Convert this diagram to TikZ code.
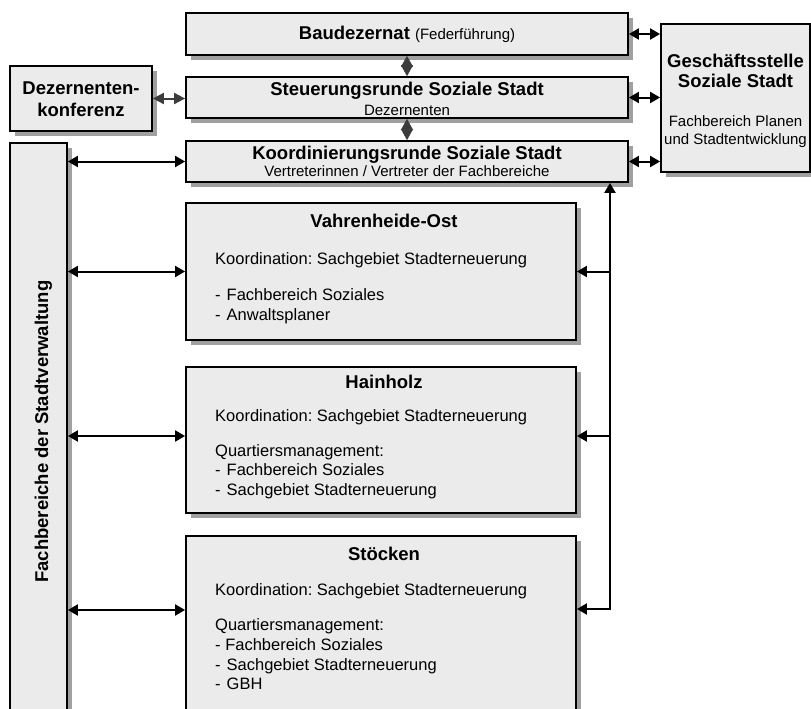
\documentclass[tikz,border=0pt]{standalone}
\usepackage{fontspec}
\setmainfont{Liberation Sans}
\usetikzlibrary{arrows.meta,shadows}
\definecolor{boxfill}{RGB}{235,235,235}
\definecolor{shadowgray}{RGB}{160,160,160}
\definecolor{darkarrow}{RGB}{60,60,60}
\newcommand\TitleFont{\fontsize{18.5}{22}\selectfont\bfseries}
\newcommand\BodyFont{\fontsize{16.5}{20}\selectfont}
\newcommand\SmallFont{\fontsize{15}{18}\selectfont}
\frenchspacing
\begin{document}
\begin{tikzpicture}[x=1pt,y=-1pt,
  box/.style={draw=black, line width=1.8pt, fill=boxfill, inner sep=0pt,
    drop shadow={shadow xshift=5pt, shadow yshift=-5pt, fill=shadowgray, opacity=1}},
  ctxt/.style={inner sep=0pt, anchor=base},
  ltxt/.style={inner sep=0pt, anchor=base west},
  arr/.style={line width=2pt, arrows={Triangle[length=10pt,width=11pt]-Triangle[length=10pt,width=11pt]}},
  sarr/.style={line width=2pt, arrows={-Triangle[length=10pt,width=11pt]}},
  garr/.style={line width=2pt, draw=darkarrow, arrows={Triangle[length=11pt,width=11pt]-Triangle[length=11pt,width=11pt]}},
  dia/.style={line width=0.4pt, draw=darkarrow, fill=darkarrow, arrows={Triangle[length=11pt,width=12pt]-Triangle[length=11pt,width=12pt]}}
]
\path[use as bounding box, clip] (0,0) rectangle (811,709);

% boxes
\node[box, minimum width=442pt, minimum height=42pt] (bau) at (407,34) {};
\node[box, minimum width=442pt, minimum height=41pt] (steu) at (407,97.5) {};
\node[box, minimum width=442pt, minimum height=41pt] (koord) at (407,161.5) {};
\node[box, minimum width=142pt, minimum height=65pt] (dez) at (81,98.5) {};
\node[box, minimum width=149pt, minimum height=148pt] (gs) at (735.5,98) {};
\node[box, minimum width=57pt, minimum height=587pt] (fb) at (38.5,436.5) {};
\node[box, minimum width=390pt, minimum height=137pt] (vo) at (381,271.5) {};
\node[box, minimum width=390pt, minimum height=146pt] (hh) at (381,440) {};
\node[box, minimum width=390pt, minimum height=204pt] (st) at (381,638) {};

% texts top
\node[ctxt] (baut) at (407,40) {\TitleFont Baudezernat \SmallFont\mdseries(Federführung)};
\node[ctxt] (steut) at (407,95.7) {\TitleFont Steuerungsrunde Soziale Stadt};
\node[ctxt] (steus) at (407,115) {\SmallFont Dezernenten};
\node[ctxt] (koordt) at (407,159) {\TitleFont Koordinierungsrunde Soziale Stadt};
\node[ctxt] (koords) at (407,176.7) {\SmallFont Vertreterinnen / Vertreter der Fachbereiche};
\node[ctxt] (dezt1) at (81,94) {\TitleFont Dezernenten-};
\node[ctxt] (dezt2) at (81,116.7) {\TitleFont konferenz};
\node[ctxt] (gst1) at (735.5,67.7) {\TitleFont Geschäftsstelle};
\node[ctxt] (gst2) at (735.5,87.3) {\TitleFont Soziale Stadt};
\node[ctxt] (gss1) at (735.5,126.7) {\SmallFont Fachbereich Planen};
\node[ctxt] (gss2) at (735.5,144) {\SmallFont und Stadtentwicklung};
\node[rotate=90, anchor=base, inner sep=0pt] (fbt) at (48,431.7) {\TitleFont Fachbereiche der Stadtverwaltung};

% Vahrenheide-Ost
\node[ctxt] (vot) at (384,227.3) {\TitleFont Vahrenheide-Ost};
\node[ltxt] (vok) at (215,264) {\BodyFont Koordination: Sachgebiet Stadterneuerung};
\node[ltxt] (vo1) at (215,300) {\BodyFont -\hspace{6pt}Fachbereich Soziales};
\node[ltxt] (vo2) at (215,320) {\BodyFont -\hspace{6pt}Anwaltsplaner};

% Hainholz
\node[ctxt] (hht) at (384,388.3) {\TitleFont Hainholz};
\node[ltxt] (hhk) at (215,421.7) {\BodyFont Koordination: Sachgebiet Stadterneuerung};
\node[ltxt] (hhq) at (215,456.7) {\BodyFont Quartiersmanagement:};
\node[ltxt] (hh1) at (215,475) {\BodyFont -\hspace{6pt}Fachbereich Soziales};
\node[ltxt] (hh2) at (215,495) {\BodyFont -\hspace{6pt}Sachgebiet Stadterneuerung};

% Stoecken
\node[ctxt] (stt) at (384,560.7) {\TitleFont Stöcken};
\node[ltxt] (stk) at (215,595) {\BodyFont Koordination: Sachgebiet Stadterneuerung};
\node[ltxt] (stq) at (215,630) {\BodyFont Quartiersmanagement:};
\node[ltxt] (st1) at (215,650) {\BodyFont - Fachbereich Soziales};
\node[ltxt] (st2) at (215,670) {\BodyFont -\hspace{6pt}Sachgebiet Stadterneuerung};
\node[ltxt] (st3) at (215,689.3) {\BodyFont -\hspace{6pt}GBH};

% connectors
\draw[dia] (bau.south) -- (steu.north);
\draw[dia] (steu.south) -- (koord.north);
\draw[garr] (dez.east) -- (dez.east -| steu.west);
\draw[arr] (bau.east) -- (bau.east -| gs.west);
\draw[arr] (steu.east) -- (steu.east -| gs.west);
\draw[arr] (koord.east) -- (koord.east -| gs.west);

\coordinate (hhL) at ([yshift=4pt]hh.west);
\coordinate (hhR) at ([yshift=4pt]hh.east);
\coordinate (stL) at ([yshift=28pt]st.west);
\coordinate (stR) at ([yshift=29pt]st.east);
\coordinate (bus) at (610,0);

\draw[arr] (koord.west -| fb.east) -- (koord.west);
\draw[arr] (vo.west -| fb.east) -- (vo.west);
\draw[arr] (hhL -| fb.east) -- (hhL);
\draw[arr] (stL -| fb.east) -- (stL);

\draw[arr] (stR) -| (bus |- koord.south);
\draw[sarr] (vo.east -| bus) -- (vo.east);
\draw[sarr] (hhR -| bus) -- (hhR);
\end{tikzpicture}
\end{document}
